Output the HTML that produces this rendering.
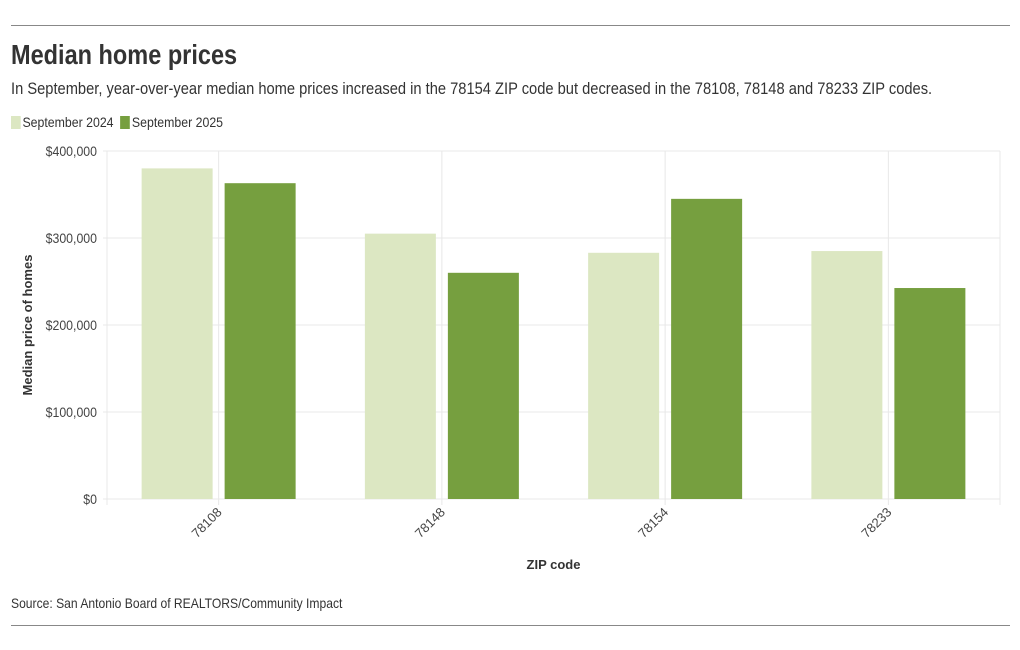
<!DOCTYPE html>
<html><head><meta charset="utf-8"><style>
body{margin:0;width:1020px;height:650px;background:#fff;font-family:"Liberation Sans",sans-serif;color:#333;position:relative;overflow:hidden}
.rule{position:absolute;left:11px;width:999px;height:1px;background:#888}
.c{position:absolute;left:11px;white-space:nowrap;transform-origin:0 0}
h1{margin:0;font-size:28px;font-weight:bold;color:#333}
.sw{display:inline-block;width:11px;height:13px;vertical-align:-2px;margin-right:2px}
svg{position:absolute;left:0;top:0}
</style></head><body>
<div class="rule" style="top:25px"></div>
<div class="c" style="top:39px;transform:scaleX(0.84)"><h1>Median home prices</h1></div>
<div class="c" style="top:80px;font-size:16.5px;transform:scaleX(0.89)">In September, year-over-year median home prices increased in the 78154 ZIP code but decreased in the 78108, 78148 and 78233 ZIP codes.</div>
<div class="c" style="top:114px;font-size:14px;transform:scaleX(0.88)">
<span><span class="sw" style="background:#dce7c2"></span>September 2024</span>
<span style="margin-left:4px"><span class="sw" style="background:#769f3f"></span>September 2025</span>
</div>
<svg width="1020" height="650" id="chart"></svg>
<div class="c" style="top:595px;font-size:14px;transform:scaleX(0.865)">Source: San Antonio Board of REALTORS/Community Impact</div>
<div class="rule" style="top:625px"></div>
<script>
const categories=["78108","78148","78154","78233"];
const values2024=[380000,305000,283000,285000];
const values2025=[363000,260000,345000,242500];
const yTicks=[0,100000,200000,300000,400000];
const yTickLabels=["$0","$100,000","$200,000","$300,000","$400,000"];
const NS="http://www.w3.org/2000/svg";
const svg=document.getElementById('chart');
const L=107,R=1000,T=151,B=499,YMAX=400000;
const cw=(R-L)/categories.length;
const y=v=>B-(v/YMAX)*(B-T);
const xc=i=>L+cw*(i+0.5);
function mk(tag,attrs){const e=document.createElementNS(NS,tag);for(const k in attrs)e.setAttribute(k,attrs[k]);svg.appendChild(e);return e;}
yTicks.forEach((t,i)=>{
  const g=mk('line',{x1:L-4,x2:R,y1:y(t),y2:y(t),stroke:'#e8e8e8','stroke-width':1});
  
  
  const tx=mk('text',{x:97,y:y(t)+5,'text-anchor':'end','font-size':14,fill:'#444',transform:`translate(${97*0.12} 0) scale(0.88 1)`});
  tx.textContent=yTickLabels[i];
  
  
});
[L].concat(categories.map((c,i)=>xc(i))).concat([R]).forEach(x=>{
  const g=mk('line',{x1:x,x2:x,y1:T,y2:B+6,stroke:'#e8e8e8','stroke-width':1});
  
  
});
const bw=71,off=41.5;
categories.forEach((c,i)=>{
  const b1=mk('rect',{x:xc(i)-off-bw/2,y:y(values2024[i]),width:bw,height:B-y(values2024[i]),fill:'#dce7c2'});
  
  
  const b2=mk('rect',{x:xc(i)+off-bw/2,y:y(values2025[i]),width:bw,height:B-y(values2025[i]),fill:'#769f3f'});
  
  
  const cx=xc(i)+4,cy=B+14;
  const tl=mk('text',{x:cx,y:cy,'text-anchor':'end','font-size':13,fill:'#444',transform:`rotate(-45 ${cx} ${cy})`});
  tl.textContent=c;
  
  
});
const xt=mk('text',{x:(L+R)/2,y:569,'text-anchor':'middle','font-size':13,'font-weight':'bold',fill:'#333'});
xt.textContent='ZIP code';


const yt=mk('text',{x:32,y:325,'text-anchor':'middle','font-size':13,'font-weight':'bold',fill:'#333',transform:'rotate(-90 32 325)'});
yt.textContent='Median price of homes';


</script>
</body></html>
